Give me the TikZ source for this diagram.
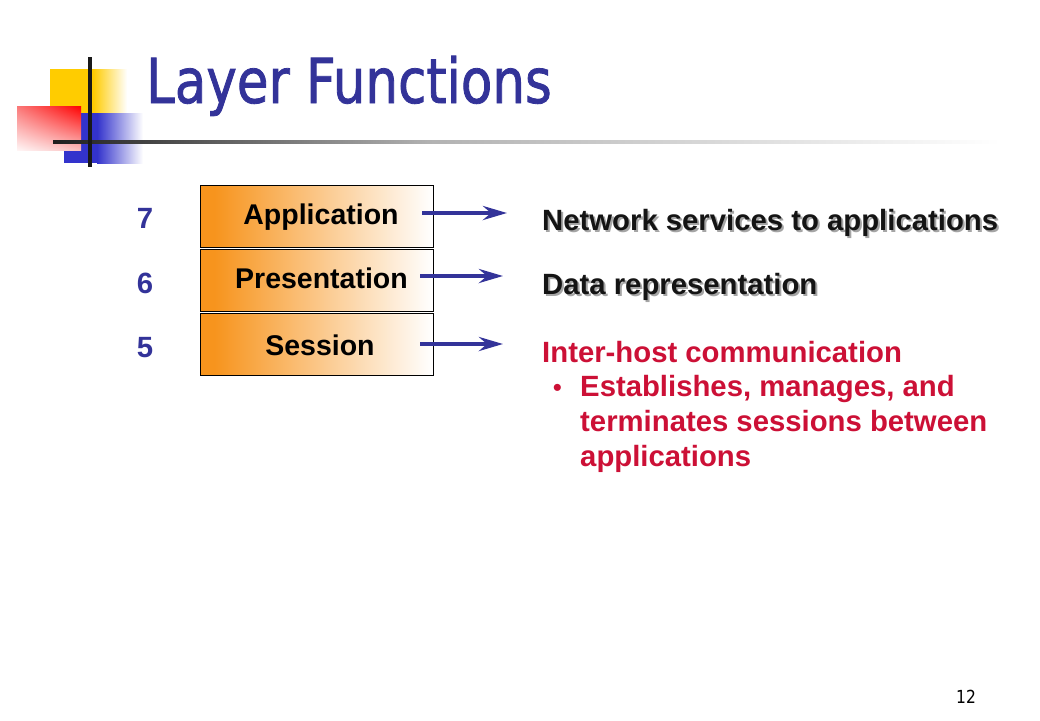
\documentclass[tikz,border=0pt]{standalone}
\usepackage{fontspec}
\setmainfont{Liberation Sans}
\newfontfamily\titlefont[FakeStretch=0.83,FakeBold=1.3]{DejaVu Sans}
\newfontfamily\pagefont[FakeStretch=0.86]{DejaVu Sans}
\usetikzlibrary{arrows.meta,shadings}
\definecolor{navy}{RGB}{51,51,153}
\definecolor{yel}{RGB}{255,204,0}
\definecolor{blu}{RGB}{51,51,204}
\definecolor{orng}{RGB}{247,148,29}
\definecolor{crim}{RGB}{204,16,54}
\definecolor{shad}{RGB}{165,165,165}
\definecolor{redUL}{RGB}{250,120,120}
\definecolor{redUR}{RGB}{255,0,0}
\definecolor{redLL}{RGB}{255,245,245}
\definecolor{redLR}{RGB}{250,190,190}
\pgfdeclarehorizontalshading{boxsh}{100bp}{color(0bp)=(orng); color(25bp)=(orng); color(28bp)=(orng); color(75bp)=(white); color(100bp)=(white)}
\pgfdeclarehorizontalshading{hlinesh}{100bp}{color(0bp)=(black!88); color(25bp)=(black!88); color(45bp)=(black!30); color(75bp)=(white); color(100bp)=(white)}
\tikzset{
  lbox/.style={draw=black, line width=0.8pt, shade, shading=boxsh, minimum width=233pt, inner sep=0pt},
  bodytext/.style={inner sep=0pt, font=\bfseries\fontsize{29.3}{34}\selectfont},
  laytext/.style={bodytext, anchor=base, text=black, font=\bfseries\fontsize{28.5}{34}\selectfont},
  numtext/.style={bodytext, anchor=base, text=navy},
  desc/.style={bodytext, anchor=base west, text=black!92},
  descshadow/.style={bodytext, anchor=base west, text=shad},
  redtext/.style={bodytext, anchor=base west, text=crim},
  arr/.style={draw=navy, line width=4pt, -{Stealth[length=24pt, width=14pt, inset=8pt]}},
}
\begin{document}
\begin{tikzpicture}[x=1pt,y=-1pt]
\useasboundingbox (0,0) rectangle (1040,720);
% logo
\fill[yel] (50,69) rectangle (93,113);
\shade[left color=yel, right color=white] (93,69) rectangle (127,113);
\fill[blu] (64,113) rectangle (97,163);
\shade[left color=blu, right color=white] (97,113) rectangle (143,163);
\shade[upper left=redUL, upper right=redUR, lower left=redLL, lower right=redLR]
  (17,106) rectangle (81,150);
\shade[shading=hlinesh] (53,140.5) rectangle (1000,143.5);
\draw[line width=3.5pt, black!90] (90,57) -- (90,167);
% title
\node[anchor=base west, inner sep=0pt, text=navy, font=\titlefont\fontsize{62}{62}\selectfont] (title) at (146,103) {Layer Functions};
% boxes
\node[lbox, minimum height=62pt] (app) at (316.5,216) {};
\node[lbox, minimum height=62pt] (pre) at (316.5,280) {};
\node[lbox, minimum height=62pt] (ses) at (316.5,344) {};
\node[laytext] (appt) at (321,224) {Application};
\node[laytext] (pret) at (321.5,288) {Presentation};
\node[laytext] (sest) at (320,355) {Session};
% numbers
\node[numtext] (n7) at (145,228) {7};
\node[numtext] (n6) at (145,293) {6};
\node[numtext] (n5) at (145,357) {5};
% descriptions
\node[descshadow] (nets) at (544,232) {Network services to applications};
\node[desc] (net) at (542,230) {Network services to applications};
\node[descshadow] (dats) at (544,296) {Data representation};
\node[desc] (dat) at (542,294) {Data representation};
\node[redtext] (ih) at (542,362) {Inter-host communication};
\node[anchor=base, inner sep=0pt, text=crim, font=\fontsize{26}{26}\selectfont] (bul) at (557.5,396) {•};
\node[redtext] (l1) at (580,396) {Establishes, manages, and};
\node[redtext] (l2) at (580,431) {terminates sessions between};
\node[redtext] (l3) at (580,466) {applications};
% arrows
\coordinate (s7) at (422,213);
\coordinate (e7) at (507,213);
\coordinate (s6) at (420,276);
\coordinate (e6) at (503,276);
\coordinate (s5) at (420,344);
\coordinate (e5) at (503,344);
\draw[arr] (s7) -- (e7);
\draw[arr] (s6) -- (e6);
\draw[arr] (s5) -- (e5);
% page number
\node[anchor=base, inner sep=0pt, font=\pagefont\fontsize{18}{18}\selectfont] (pg) at (966,703) {12};
\end{tikzpicture}
\end{document}
